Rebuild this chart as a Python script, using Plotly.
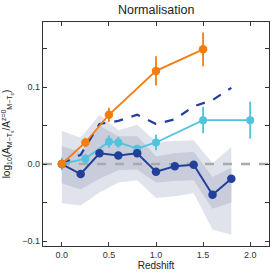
import plotly.graph_objects as go

# Data
z_or = [0.0, 0.25, 0.5, 1.0, 1.5]
y_or = [0.0, 0.028, 0.064, 0.121, 0.149]
e_or = [0.0, 0.006, 0.009, 0.019, 0.022]

z_cy = [0.0, 0.25, 0.5, 0.6, 0.8, 1.0, 1.5, 2.0]
y_cy = [0.0, 0.007, 0.029, 0.028, 0.020, 0.028, 0.057, 0.057]
e_cy = [0.008, 0.006, 0.008, 0.007, 0.004, 0.010, 0.017, 0.024]

z_db = [0.0, 0.2, 0.4, 0.6, 0.8, 1.0, 1.2, 1.4, 1.6, 1.8]
y_db = [0.0, -0.013, 0.014, 0.011, 0.014, -0.010, -0.003, -0.001, -0.040, -0.019]
y_dash = [0.0, 0.012, 0.052, 0.056, 0.064, 0.052, 0.058, 0.075, 0.083, 0.099]

outer_hi = [0.043, 0.034, 0.064, 0.044, 0.051, 0.029, 0.030, 0.031, 0.001, 0.022]
outer_lo = [-0.051, -0.054, -0.037, -0.024, -0.021, -0.044, -0.042, -0.038, -0.085, -0.092]
inner_hi = [0.023, 0.016, 0.050, 0.036, 0.036, 0.010, 0.014, 0.016, -0.017, -0.005]
inner_lo = [-0.025, -0.033, -0.019, -0.008, -0.007, -0.024, -0.022, -0.021, -0.058, -0.050]

C_OR = "#f57d0f"
C_CY = "#52c3dc"
C_DB = "#22409a"

fig = go.Figure()

# bands
fig.add_trace(go.Scatter(x=z_db + z_db[::-1], y=outer_hi + outer_lo[::-1], fill="toself",
                         fillcolor="#e1e3ec", line=dict(width=0), mode="lines", hoverinfo="skip"))
fig.add_trace(go.Scatter(x=z_db + z_db[::-1], y=inner_hi + inner_lo[::-1], fill="toself",
                         fillcolor="#c9ccda", line=dict(width=0), mode="lines", hoverinfo="skip"))

# zero line
fig.add_trace(go.Scatter(x=[-0.2, 2.2], y=[0, 0], mode="lines",
                         line=dict(color="#aaaaaa", width=2.5, dash="dash")))

# dashed dark blue
fig.add_trace(go.Scatter(x=z_db, y=y_dash, mode="lines",
                         line=dict(color=C_DB, width=2.2, dash="dash")))

# cyan
fig.add_trace(go.Scatter(x=z_cy, y=y_cy, mode="lines+markers",
                         line=dict(color=C_CY, width=1.8),
                         marker=dict(color=C_CY, size=8),
                         error_y=dict(type="data", array=e_cy, color=C_CY, thickness=1.8, width=0)))

# dark blue solid
fig.add_trace(go.Scatter(x=z_db, y=y_db, mode="lines+markers",
                         line=dict(color=C_DB, width=2),
                         marker=dict(color=C_DB, size=8.5)))

# orange
fig.add_trace(go.Scatter(x=z_or, y=y_or, mode="lines+markers",
                         line=dict(color=C_OR, width=1.8),
                         marker=dict(color=C_OR, size=8.5),
                         error_y=dict(type="data", array=e_or, color=C_OR, thickness=1.8, width=0)))

axis_common = dict(showgrid=False, zeroline=False, showline=True, linecolor="#333333",
                   linewidth=1.2, mirror="ticks", ticks="inside", ticklen=4, tickwidth=1,
                   tickcolor="#333333", tickfont=dict(size=9, color="#333333"),
                   automargin=False)

fig.update_layout(
    width=274, height=274,
    margin=dict(l=43, r=5, t=22, b=28),
    paper_bgcolor="white", plot_bgcolor="white",
    showlegend=False,
    font=dict(family="Liberation Sans, Arial, sans-serif", color="#222222"),
    title=dict(text="Normalisation", x=0.57, xanchor="center", y=0.965, yanchor="middle",
               font=dict(size=12.5, color="#222222")),
    xaxis=dict(range=[-0.2, 2.2], tickvals=[0, 0.5, 1.0, 1.5, 2.0],
               ticktext=["0.0", "0.5", "1.0", "1.5", "2.0"],
               title=dict(text="Redshift", font=dict(size=10), standoff=1), **axis_common),
    yaxis=dict(range=[-0.1065, 0.1845], tickvals=[-0.1, 0.0, 0.1],
               ticktext=["\u22120.1", "0.0", "0.1"],
               minor=dict(tickvals=[-0.05, 0.05, 0.15], ticks="inside", ticklen=4,
                          tickcolor="#333333"),
               title=dict(text="log<sub>10</sub>(A<sub>M\u2212T<sub>s</sub></sub>/A<sup>z=0</sup><sub>M\u2212T<sub>s</sub></sub>)",
                          font=dict(size=10)), **axis_common),
)

fig.write_html("out.html", config={"displayModeBar": False},
               post_script=["document.body.style.margin='0';"])
